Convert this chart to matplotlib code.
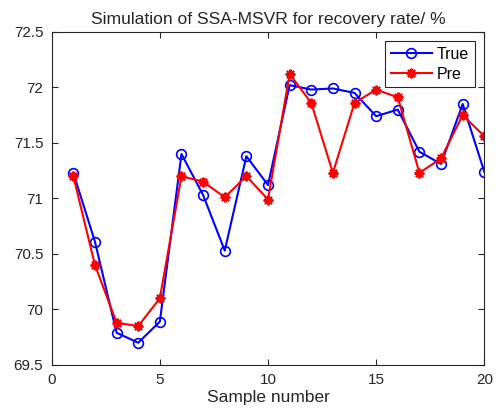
import numpy as np
import matplotlib
matplotlib.use("Agg")
import matplotlib.pyplot as plt

plt.rcParams["font.family"] = ["Liberation Sans", "DejaVu Sans"]

samples = np.arange(1, 21)
true_vals = [71.23, 70.61, 69.79, 69.70, 69.89, 71.40, 71.03, 70.53, 71.38, 71.12,
             72.02, 71.98, 71.99, 71.95, 71.74, 71.80, 71.42, 71.31, 71.85, 71.24]
pre_vals = [71.20, 70.40, 69.88, 69.85, 70.10, 71.20, 71.15, 71.01, 71.20, 70.99,
            72.12, 71.86, 71.23, 71.86, 71.98, 71.91, 71.23, 71.36, 71.75, 71.56]

fig = plt.figure(figsize=(5, 4.19), dpi=100)
ax = fig.add_axes([0.1034, 0.129, 0.8652, 0.795])

ax.plot(samples, true_vals, color="blue", marker="o", markersize=7, markerfacecolor="none",
        markeredgewidth=1.2, linewidth=1.5, label="True")
ax.plot(samples, pre_vals, color="red", marker=(8, 2, 0), markersize=7,
        markeredgewidth=1.5, linewidth=1.5, label="Pre")

ax.set_xlim(0, 20)
ax.set_ylim(69.5, 72.5)
ax.set_xticks([0, 5, 10, 15, 20])
ax.set_yticks(np.arange(69.5, 72.51, 0.5))
ax.set_yticklabels(["69.5", "70", "70.5", "71", "71.5", "72", "72.5"])

text_color = "#262626"
for s in ax.spines.values():
    s.set_color("#262626")
    s.set_linewidth(0.8)
ax.tick_params(direction="in", top=True, right=True, length=4, labelsize=11,
               colors=text_color, pad=6)
ax.set_xlabel("Sample number", fontsize=12.5, color=text_color, labelpad=2)
ax.set_title("Simulation of SSA-MSVR for recovery rate/ %", fontsize=12.6,
             color=text_color, pad=6)

leg = ax.legend(loc="upper right", fontsize=11.5, fancybox=False, framealpha=1,
                edgecolor="#262626", handlelength=2.6, handletextpad=0.3,
                labelspacing=0.3, borderpad=0.35, borderaxespad=0.6)
leg.get_frame().set_linewidth(0.8)

fig.savefig("out.png", dpi=100)
